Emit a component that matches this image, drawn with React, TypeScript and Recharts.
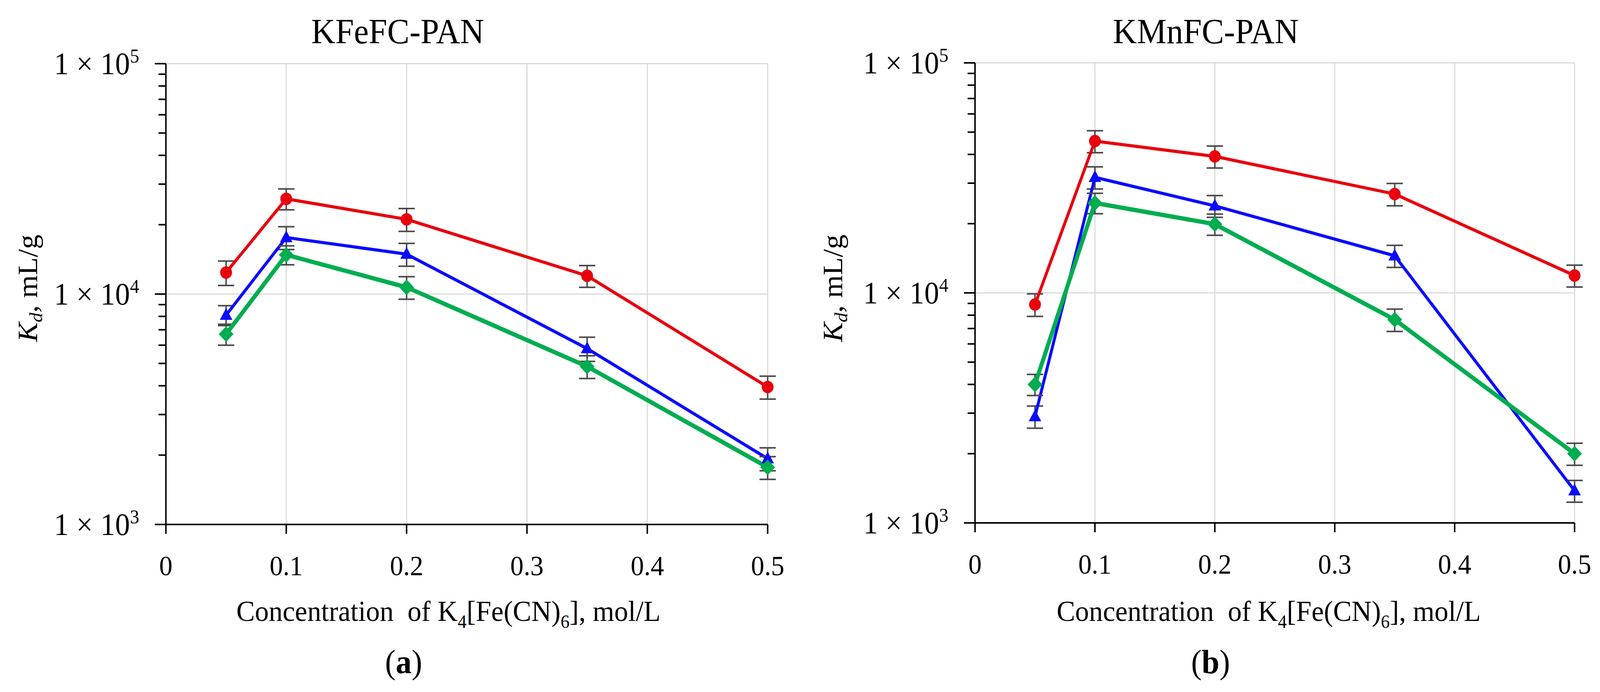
import { CartesianGrid, ErrorBar, Line, LineChart, XAxis, YAxis } from 'recharts';

const FONT = '"Liberation Serif", "Times New Roman", serif';
const RED = '#e8000d';
const BLUE = '#0a0aff';
const GREEN = '#00ad50';
const ERR = '#4a4a4a';

// only about 4108px of the 4334px-wide window ends up in the photo, so squeeze the figure to that width
const FIT_X = 0.948;

// concentration of K4[Fe(CN)6], mol/L
const conc = [0.05, 0.1, 0.2, 0.35, 0.5];
const xTicks = [0, 0.1, 0.2, 0.3, 0.4, 0.5];
const yTicks = [
  1000, 2000, 3000, 4000, 5000, 6000, 7000, 8000, 9000,
  10000, 20000, 30000, 40000, 50000, 60000, 70000, 80000, 90000,
  100000,
];
const yMajor = [1000, 10000, 100000];
const yGrid = [10000, 100000];

// (a) KFeFC-PAN, Kd mL/g
const feRed = [12400, 25900, 21100, 12000, 3950];
const feRedErr = [1500, 2700, 2400, 1300, 450];
const feBlue = [8100, 17600, 14900, 5800, 1930];
const feBlueErr = [800, 2000, 1700, 700, 220];
const feGreen = [6700, 14800, 10700, 4850, 1770];
const feGreenErr = [700, 1400, 1200, 550, 200];

// (b) KMnFC-PAN, Kd mL/g
const mnRed = [8900, 45700, 39200, 26900, 11900];
const mnRedErr = [1000, 5000, 4300, 3000, 1300];
const mnBlue = [2900, 31800, 23900, 14500, 1380];
const mnBlueErr = [320, 3500, 2600, 1600, 150];
const mnGreen = [4000, 24600, 19900, 7650, 2000];
const mnGreenErr = [420, 2500, 2100, 850, 220];

const rows = (r: number[], re: number[], b: number[], be: number[], g: number[], ge: number[]) =>
  conc.map((x, i) => ({ x, red: r[i], redErr: re[i], blue: b[i], blueErr: be[i], green: g[i], greenErr: ge[i] }));

const feData = rows(feRed, feRedErr, feBlue, feBlueErr, feGreen, feGreenErr);
const mnData = rows(mnRed, mnRedErr, mnBlue, mnBlueErr, mnGreen, mnGreenErr);

function YTick({ x, y, payload }: any) {
  const v = payload.value;
  const major = yMajor.includes(v);
  return (
    <g>
      <line x1={x - (major ? 30 : 20)} x2={x} y1={y} y2={y} stroke="#000" strokeWidth={4} />
      {major ? (
        <text x={x - 72} y={y + 27} textAnchor="end" fontSize={80} fontFamily={FONT} fill="#000">
          1 × 10
          <tspan dy={-30} fontSize={50}>
            {Math.round(Math.log10(v))}
          </tspan>
        </text>
      ) : null}
    </g>
  );
}

function XTick({ x, y, payload }: any) {
  return (
    <g>
      <line x1={x} x2={x} y1={y} y2={y + 24} stroke="#000" strokeWidth={4} />
      <text x={x} y={y + 130} textAnchor="middle" fontSize={72} fontFamily={FONT} fill="#000">
        {payload.value}
      </text>
    </g>
  );
}

const circleDot = (p: any) =>
  p.cx == null ? <g key={`c-${p.index}`} /> : <circle key={`c-${p.index}`} cx={p.cx} cy={p.cy} r={16} fill={RED} />;

const triangleDot = (p: any) =>
  p.cx == null ? (
    <g key={`t-${p.index}`} />
  ) : (
    <polygon
      key={`t-${p.index}`}
      points={`${p.cx},${p.cy - 18} ${p.cx + 17},${p.cy + 12} ${p.cx - 17},${p.cy + 12}`}
      fill={BLUE}
    />
  );

const diamondDot = (p: any) =>
  p.cx == null ? (
    <g key={`d-${p.index}`} />
  ) : (
    <polygon
      key={`d-${p.index}`}
      points={`${p.cx},${p.cy - 20} ${p.cx + 20},${p.cy} ${p.cx},${p.cy + 20} ${p.cx - 20},${p.cy}`}
      fill={GREEN}
    />
  );

type PanelProps = {
  left: number;
  data: ReturnType<typeof rows>;
  margin: { top: number; right: number; bottom: number; left: number };
  title: string;
  tag: string;
  titleX: number;
  xLabelX: number;
  yLabelX: number;
  tagX: number;
};

const W = 2167;
const H = 1772;

function Panel({ left, data, margin, title, tag, titleX, xLabelX, yLabelX, tagX }: PanelProps) {
  return (
    <div style={{ position: 'absolute', left, top: 0, width: W, height: H }}>
      <LineChart width={W} height={H} data={data} margin={margin}>
        <CartesianGrid stroke="#d9d9d9" strokeWidth={3} horizontalValues={yGrid} />
        <XAxis
          dataKey="x"
          type="number"
          domain={[0, 0.5]}
          ticks={xTicks}
          interval={0}
          tick={<XTick />}
          tickLine={false}
          tickSize={0}
          tickMargin={0}
          axisLine={{ stroke: '#000', strokeWidth: 4 }}
        />
        <YAxis
          type="number"
          scale="log"
          domain={[1000, 100000]}
          allowDataOverflow
          ticks={yTicks}
          interval={0}
          tick={<YTick />}
          tickLine={false}
          tickSize={0}
          tickMargin={0}
          axisLine={{ stroke: '#000', strokeWidth: 4 }}
        />
        <Line type="linear" dataKey="red" stroke={RED} strokeWidth={8} dot={circleDot} activeDot={false} isAnimationActive={false}>
          <ErrorBar dataKey="redErr" direction="y" width={22} strokeWidth={4} stroke={ERR} />
        </Line>
        <Line type="linear" dataKey="blue" stroke={BLUE} strokeWidth={8} dot={triangleDot} activeDot={false} isAnimationActive={false}>
          <ErrorBar dataKey="blueErr" direction="y" width={22} strokeWidth={4} stroke={ERR} />
        </Line>
        <Line type="linear" dataKey="green" stroke={GREEN} strokeWidth={11} dot={diamondDot} activeDot={false} isAnimationActive={false}>
          <ErrorBar dataKey="greenErr" direction="y" width={22} strokeWidth={4} stroke={ERR} />
        </Line>
      </LineChart>
      <svg width={W} height={H} style={{ position: 'absolute', left: 0, top: 0, pointerEvents: 'none' }}>
        <g fontFamily={FONT} fill="#000">
          <text x={titleX} y={111} textAnchor="middle" fontSize={90}>
            {title}
          </text>
          <text x={xLabelX} y={1590} textAnchor="middle" fontSize={75} style={{ whiteSpace: 'pre' }}>
            {'Concentration  of K'}
            <tspan dy={18} fontSize={48}>4</tspan>
            <tspan dy={-18}>[Fe(CN)</tspan>
            <tspan dy={18} fontSize={48}>6</tspan>
            <tspan dy={-18}>], mol/L</tspan>
          </text>
          <text transform={`translate(${yLabelX},738) rotate(-90)`} textAnchor="middle" fontSize={75}>
            <tspan fontStyle="italic">K</tspan>
            <tspan fontStyle="italic" fontSize={50} dy={14}>d</tspan>
            <tspan dy={-14}>, mL/g</tspan>
          </text>
          <text x={tagX} y={1724} textAnchor="middle" fontSize={86}>
            (<tspan fontWeight="bold">{tag}</tspan>)
          </text>
        </g>
      </svg>
    </div>
  );
}

export default function App() {
  return (
    <div
      style={{
        position: 'fixed',
        left: 0,
        top: 0,
        width: 4334,
        height: 1772,
        background: '#fff',
        fontFamily: FONT,
        overflow: 'hidden',
        transform: `scaleX(${FIT_X})`,
        transformOrigin: '0 0',
      }}
    >
      <style>{'html,body{margin:0;padding:0;overflow:hidden;background:#fff}'}</style>
      <Panel
        left={0}
        data={feData}
        margin={{ top: 163, right: W - 2073, bottom: H - 1343 - 30, left: 448 - 60 }}
        title="KFeFC-PAN"
        tag="a"
        titleX={1074}
        xLabelX={1211}
        yLabelX={100}
        tagX={1090}
      />
      <Panel
        left={W}
        data={mnData}
        margin={{ top: 161, right: W - (4252 - W), bottom: H - 1339 - 30, left: 2633 - W - 60 }}
        title="KMnFC-PAN"
        tag="b"
        titleX={1089}
        xLabelX={1259}
        yLabelX={107}
        tagX={1102}
      />
    </div>
  );
}
